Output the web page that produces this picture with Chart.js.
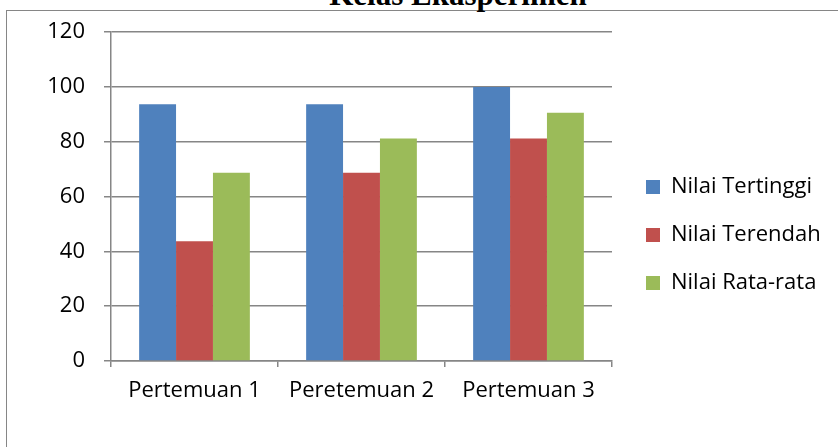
<!DOCTYPE html>
<html>
<head>
<meta charset="utf-8">
<script src="https://cdn.jsdelivr.net/npm/chart.js@4.4.1/dist/chart.umd.min.js"></script>
<style>
  html, body { margin: 0; padding: 0; background: #ffffff; overflow: hidden; }
  #wrap { position: relative; width: 838px; height: 447px; overflow: hidden; }
  #frame { position: absolute; left: 6px; top: 10px; width: 900px; height: 500px;
           border-left: 1.5px solid #868686; border-top: 1.5px solid #868686; }
  #title { position: absolute; left: 0; width: 916px; top: -20px; text-align: center;
           font-family: "Liberation Serif", serif; font-weight: bold; font-size: 31px;
           line-height: 30px; color: #000; white-space: nowrap; }
  canvas { position: absolute; left: 0; top: 0; }
</style>
</head>
<body>
<div id="wrap">
  <div id="frame"></div>
  <div id="title">Kelas Ekasperimen</div>
  <canvas id="c" width="838" height="447"></canvas>
</div>
<script>
const categories = ["Pertemuan 1", "Peretemuan 2", "Pertemuan 3"];
const nilaiTertinggi = [93.75, 93.75, 100];
const nilaiTerendah = [43.75, 68.75, 81.25];
const nilaiRataRata = [68.75, 81.25, 90.63];
const seriesNames = ["Nilai Tertinggi", "Nilai Terendah", "Nilai Rata-rata"];
const yTicks = [0, 20, 40, 60, 80, 100, 120];

const FONT = "'Open Sans', 'Noto Sans', sans-serif";
const GRID = "#868686";

const legendShift = {
  id: 'legendShift',
  afterLayout(chart) {
    const lg = chart.legend;
    if (!lg) return;
    const dx = 8, dy = -4.5;
    lg.left += dx; lg.right += dx;
    lg.top += dy; lg.bottom += dy;
  }
};

new Chart(document.getElementById('c'), {
  type: 'bar',
  data: {
    labels: categories,
    datasets: [
      { label: seriesNames[0], data: nilaiTertinggi, backgroundColor: '#4f81bd' },
      { label: seriesNames[1], data: nilaiTerendah, backgroundColor: '#c0504d' },
      { label: seriesNames[2], data: nilaiRataRata, backgroundColor: '#9bbb59' }
    ]
  },
  options: {
    responsive: false,
    animation: false,
    devicePixelRatio: 1,
    categoryPercentage: 0.663,
    barPercentage: 1.0,
    layout: { padding: { top: 32, left: 0, bottom: 0, right: 22 } },
    plugins: {
      title: { display: false },
      tooltip: { enabled: false },
      legend: {
        position: 'right',
        labels: {
          boxWidth: 14, boxHeight: 14, padding: 26,
          color: '#000', font: { family: FONT, size: 22 }
        }
      }
    },
    scales: {
      x: {
        afterFit(scale) { scale.height = 86; },
        grid: { offset: true, drawOnChartArea: false, drawTicks: true, tickLength: 6,
                color: GRID, lineWidth: 1.5 },
        border: { color: GRID, width: 1.5 },
        ticks: { color: '#000', font: { family: FONT, size: 22 }, padding: 11,
                 maxRotation: 0, autoSkip: false }
      },
      y: {
        min: 0, max: 120,
        afterFit(scale) { scale.width = 111; },
        afterBuildTicks(scale) { scale.ticks = yTicks.map(v => ({ value: v })); },
        grid: { color: GRID, lineWidth: 1.5, drawTicks: true, tickLength: 7 },
        border: { color: GRID, width: 1.5 },
        ticks: { color: '#000', font: { family: FONT, size: 22 }, padding: 19 }
      }
    }
  },
  plugins: [legendShift]
});
</script>
</body>
</html>
